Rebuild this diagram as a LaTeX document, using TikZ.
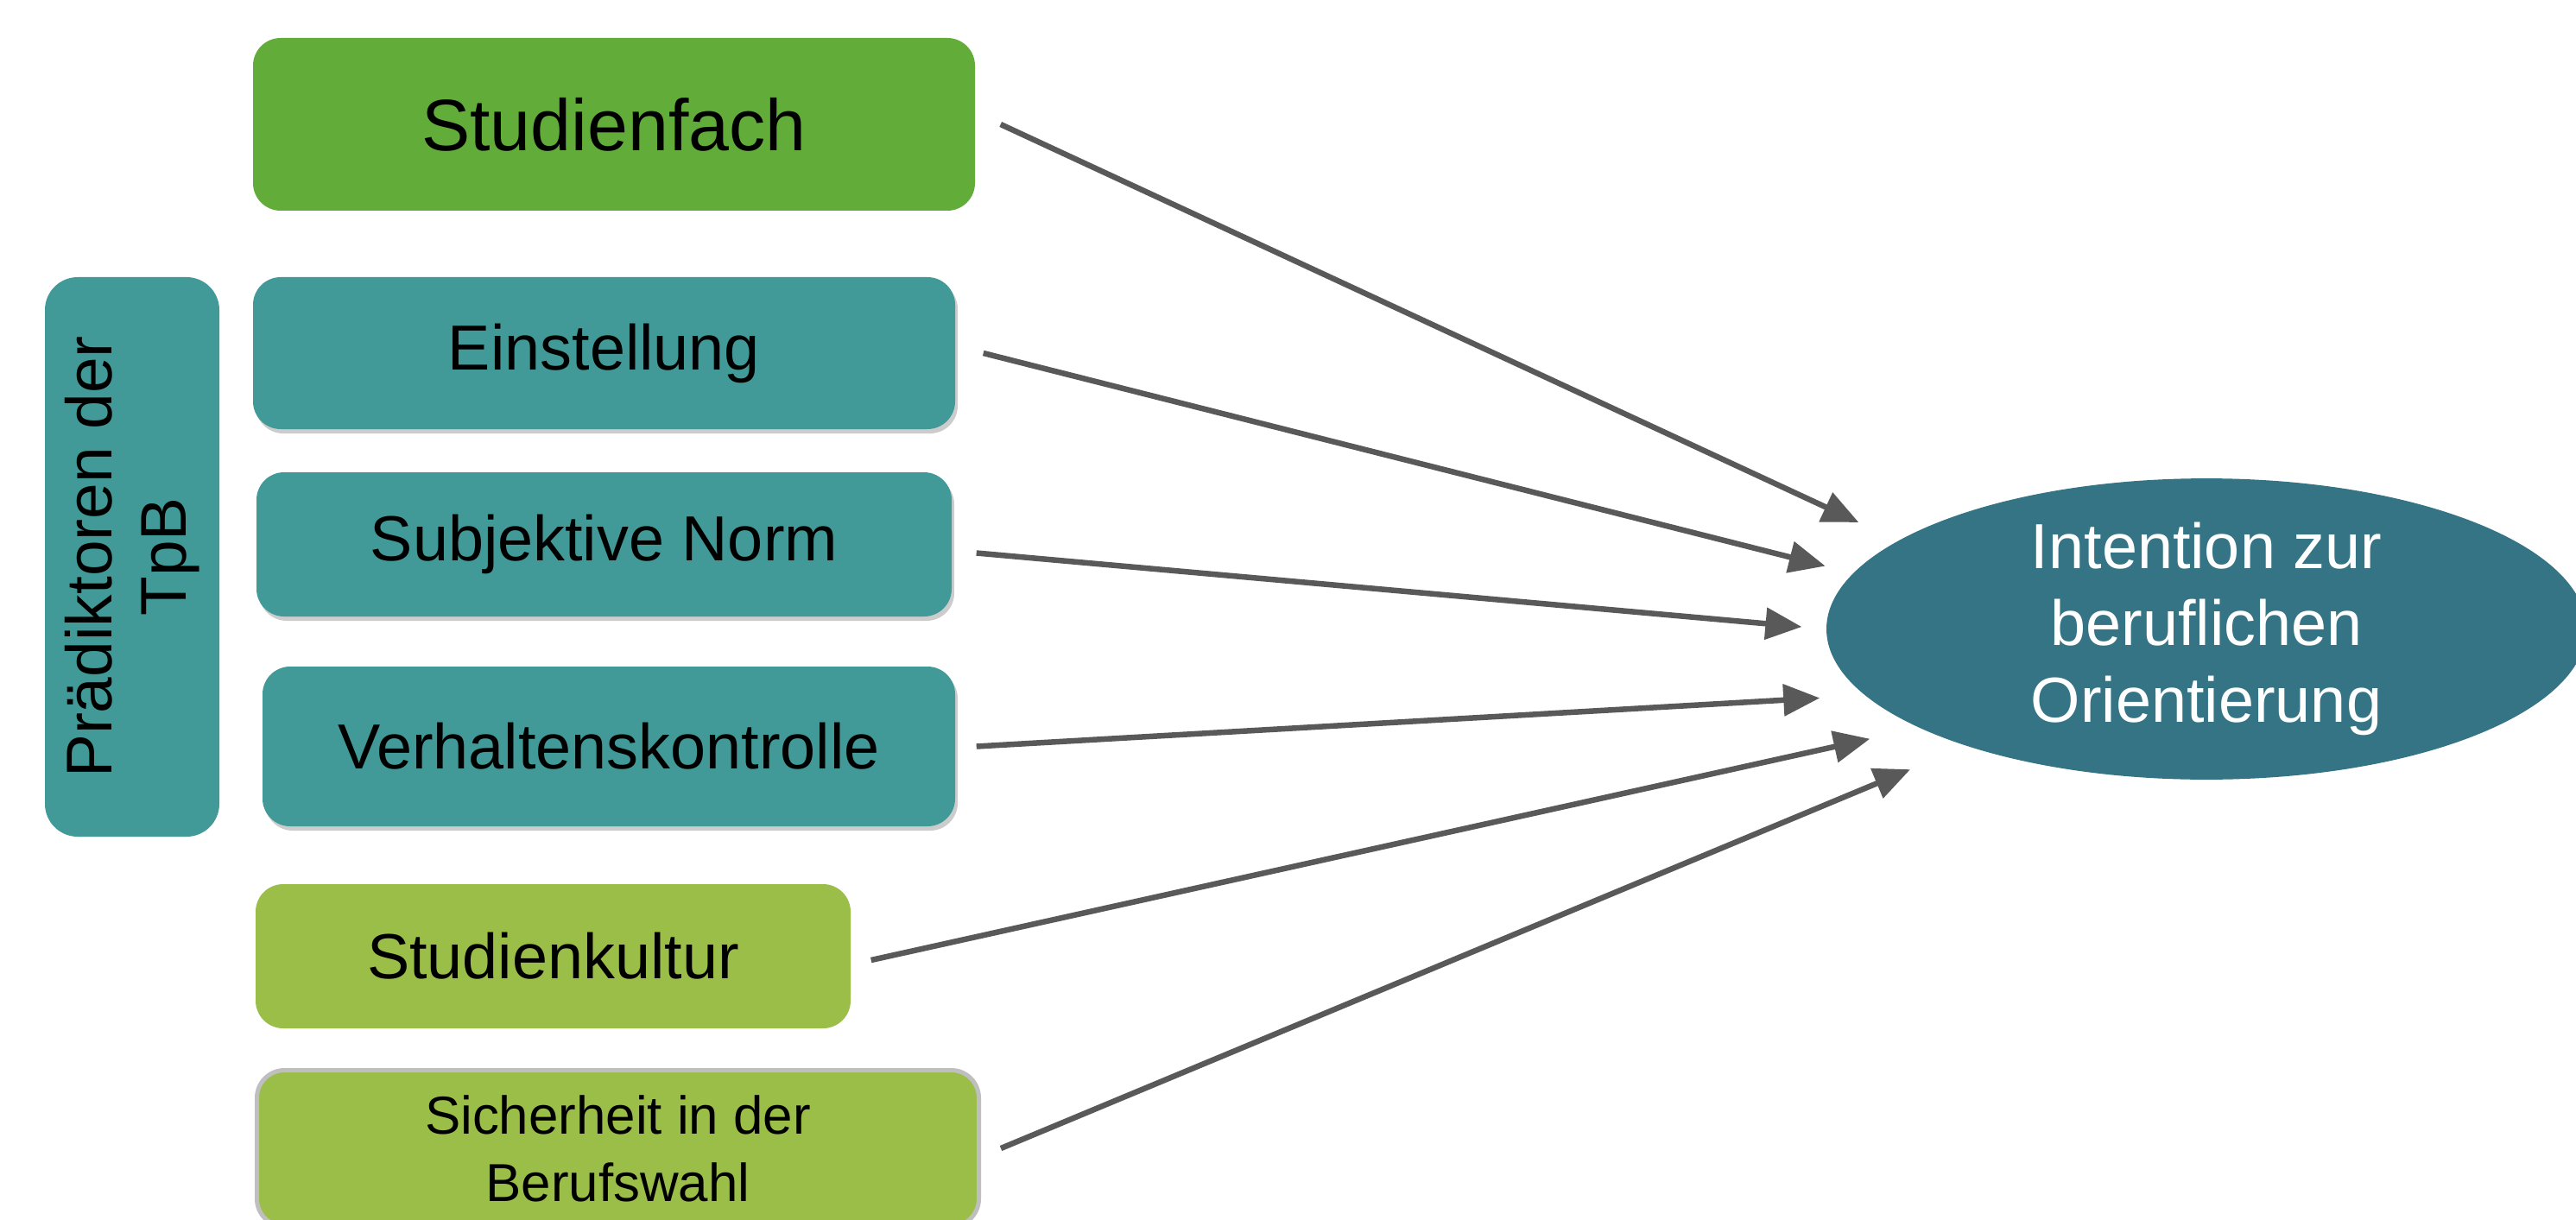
\documentclass[tikz,border=0pt]{standalone}
\usepackage{fontspec}
\setmainfont{Liberation Sans}
\usetikzlibrary{positioning, arrows.meta, shapes.geometric, shadows}

\definecolor{fachgruen}{HTML}{62AC3A}
\definecolor{tpbteal}{HTML}{419A98}
\definecolor{hellgruen}{HTML}{9BBE48}
\definecolor{zielblau}{HTML}{347484}
\definecolor{pfeilgrau}{HTML}{595959}

\begin{document}
\begin{tikzpicture}
            [box/.style={rectangle, rounded corners=0.32cm, inner sep=0pt,
                align=center, font=\fontsize{21}{25}\selectfont},
              fach/.style={box, fill=fachgruen,
                font=\fontsize{24}{29}\selectfont},
              tpb/.style={box, fill=tpbteal,
                drop shadow={shadow xshift=0.03cm, shadow yshift=-0.05cm,
                  fill=black, opacity=0.2}},
              ctx/.style={box, fill=hellgruen},
              ziel/.style={ellipse, fill=zielblau, text=white, inner sep=0pt,
                align=center, font=\fontsize{21}{25.3}\selectfont},
              ->/.style={draw=pfeilgrau, line width=0.065cm,
                arrows={-Triangle[length=0.42cm, width=0.36cm]}}]
            \useasboundingbox (0, 0) rectangle (29.83, -14.12);
            \clip (0, 0) rectangle (29.83, -14.12);
            \node[fach, minimum width=8.36cm, minimum height=2cm]
                (fach) at (7.11, -1.44) {Studienfach};
            \node[box, fill=tpbteal, rotate=90, rounded corners=0.38cm,
                minimum width=6.48cm, minimum height=2.02cm,
                font=\fontsize{21.3}{24.5}\selectfont]
                (tpb) at (1.53, -6.45) {Prädiktoren der\\TpB};
            \node[tpb, minimum width=8.13cm, minimum height=1.76cm]
                (einst) at (6.995, -4.09) {Einstellung};
            \node[tpb, minimum width=8.05cm, minimum height=1.67cm]
                (norm) at (6.995, -6.305) {Subjektive Norm};
            \node[tpb, minimum width=8.02cm, minimum height=1.85cm]
                (verh) at (7.05, -8.645) {Verhaltenskontrolle};
            \node[ctx, minimum width=6.89cm, minimum height=1.67cm]
                (kultur) at (6.405, -11.075) {Studienkultur};
            \node[ctx, draw=black!25, line width=0.05cm,
                minimum width=8.36cm, minimum height=1.81cm,
                font=\fontsize{17.6}{22.2}\selectfont]
                (sicher) at (7.155, -13.3) {Sicherheit in der\\Berufswahl};
            \node[ziel, minimum width=8.8cm, minimum height=3.45cm]
                (int) at (25.55, -7.285) {Intention zur\\beruflichen\\Orientierung};
            \draw[->, shorten >=0.5cm] ([xshift=0.29cm]fach.east) to (int.164);
            \draw[->, shorten >=0.33cm] ([xshift=0.32cm]einst.east) to (int.171.5);
            \draw[->, shorten >=0.28cm] ([shift={(0.28,-0.1)}]norm.east) to (int.180);
            \draw[->, shorten >=0.52cm] ([xshift=0.24cm]verh.east) to (int.191);
            \draw[->, shorten >=0.58cm] ([shift={(0.23,-0.045)}]kultur.east) to (int.199.5);
            \draw[->, shorten >=0.7cm] ([xshift=0.23cm]sicher.east) to (int.206.2);
        \end{tikzpicture}
\end{document}
